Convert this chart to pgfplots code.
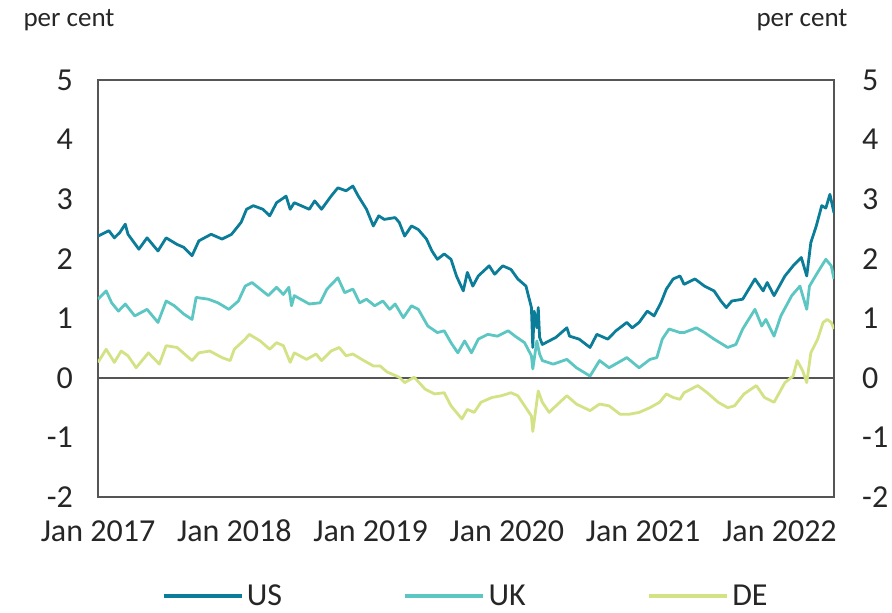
\documentclass[border=0pt]{standalone}
\usepackage{pgfplots}
\pgfplotsset{compat=1.18}
\usepackage{pgfplotstable}
\usepackage{fontspec}
\setmainfont{Carlito}
\definecolor{cUS}{HTML}{0B7D99}
\definecolor{cUK}{HTML}{5CC6C2}
\definecolor{cDE}{HTML}{D3E285}
\definecolor{axg}{HTML}{555555}

\pgfplotstableread{
x y
2017.00 2.38
2017.08 2.47
2017.12 2.35
2017.16 2.44
2017.20 2.58
2017.22 2.41
2017.30 2.16
2017.36 2.35
2017.44 2.13
2017.50 2.35
2017.58 2.24
2017.63 2.19
2017.69 2.05
2017.74 2.30
2017.83 2.41
2017.91 2.33
2017.98 2.41
2018.05 2.61
2018.09 2.83
2018.14 2.89
2018.21 2.83
2018.26 2.72
2018.31 2.94
2018.38 3.05
2018.41 2.83
2018.44 2.94
2018.55 2.83
2018.59 2.97
2018.64 2.83
2018.71 3.05
2018.76 3.19
2018.82 3.14
2018.87 3.22
2018.91 3.05
2018.97 2.83
2019.02 2.55
2019.06 2.72
2019.10 2.66
2019.18 2.69
2019.21 2.61
2019.25 2.38
2019.30 2.55
2019.35 2.49
2019.41 2.33
2019.45 2.13
2019.49 1.99
2019.54 2.08
2019.59 1.99
2019.63 1.71
2019.68 1.46
2019.71 1.77
2019.75 1.54
2019.79 1.71
2019.87 1.88
2019.91 1.74
2019.97 1.88
2020.03 1.82
2020.08 1.66
2020.14 1.54
2020.18 1.18
2020.19 0.51
2020.20 1.12
2020.22 0.84
2020.23 1.18
2020.24 0.68
2020.26 0.56
2020.31 0.62
2020.36 0.68
2020.44 0.84
2020.46 0.70
2020.53 0.65
2020.61 0.51
2020.66 0.73
2020.74 0.65
2020.80 0.79
2020.88 0.93
2020.92 0.84
2020.97 0.93
2021.03 1.12
2021.08 1.04
2021.13 1.26
2021.17 1.49
2021.22 1.66
2021.27 1.71
2021.30 1.57
2021.38 1.66
2021.45 1.54
2021.52 1.46
2021.57 1.29
2021.61 1.18
2021.65 1.29
2021.73 1.32
2021.82 1.66
2021.88 1.46
2021.91 1.60
2021.96 1.38
2022.04 1.71
2022.10 1.88
2022.16 2.02
2022.20 1.71
2022.23 2.27
2022.27 2.55
2022.31 2.89
2022.34 2.85
2022.37 3.08
2022.40 2.77
}\dataUS

\pgfplotstableread{
x y
2017.00 1.32
2017.06 1.46
2017.10 1.26
2017.15 1.12
2017.20 1.24
2017.27 1.04
2017.36 1.15
2017.44 0.93
2017.50 1.29
2017.56 1.21
2017.63 1.07
2017.69 0.98
2017.72 1.35
2017.81 1.32
2017.88 1.26
2017.96 1.15
2018.03 1.29
2018.08 1.54
2018.13 1.60
2018.19 1.49
2018.25 1.38
2018.31 1.52
2018.36 1.40
2018.40 1.52
2018.42 1.21
2018.44 1.38
2018.55 1.24
2018.63 1.26
2018.68 1.49
2018.76 1.68
2018.81 1.43
2018.87 1.49
2018.92 1.26
2018.97 1.32
2019.03 1.21
2019.09 1.29
2019.14 1.15
2019.18 1.24
2019.24 1.01
2019.30 1.21
2019.35 1.15
2019.42 0.87
2019.49 0.76
2019.54 0.79
2019.59 0.59
2019.64 0.42
2019.69 0.62
2019.74 0.42
2019.79 0.65
2019.86 0.73
2019.93 0.70
2020.01 0.79
2020.06 0.70
2020.13 0.59
2020.18 0.37
2020.19 0.15
2020.22 0.62
2020.24 0.40
2020.26 0.29
2020.34 0.23
2020.44 0.31
2020.51 0.17
2020.61 0.03
2020.68 0.29
2020.75 0.17
2020.88 0.34
2020.97 0.17
2021.05 0.31
2021.10 0.34
2021.14 0.65
2021.19 0.82
2021.27 0.76
2021.30 0.76
2021.39 0.84
2021.45 0.76
2021.52 0.65
2021.62 0.51
2021.68 0.56
2021.73 0.82
2021.82 1.15
2021.87 0.87
2021.90 0.98
2021.96 0.70
2022.01 1.04
2022.09 1.38
2022.15 1.54
2022.20 1.15
2022.22 1.54
2022.28 1.77
2022.34 1.99
2022.38 1.88
2022.40 1.66
}\dataUK

\pgfplotstableread{
x y
2017.00 0.26
2017.06 0.48
2017.12 0.26
2017.17 0.45
2017.22 0.37
2017.28 0.17
2017.37 0.42
2017.45 0.23
2017.50 0.54
2017.58 0.51
2017.69 0.29
2017.74 0.42
2017.82 0.45
2017.91 0.34
2017.97 0.29
2018.00 0.48
2018.08 0.65
2018.11 0.73
2018.19 0.62
2018.26 0.48
2018.31 0.59
2018.36 0.54
2018.41 0.26
2018.44 0.42
2018.53 0.31
2018.60 0.40
2018.64 0.29
2018.71 0.45
2018.77 0.51
2018.82 0.37
2018.87 0.40
2018.95 0.29
2019.02 0.20
2019.07 0.20
2019.12 0.10
2019.21 0.01
2019.25 -0.08
2019.32 0.01
2019.40 -0.19
2019.47 -0.27
2019.54 -0.25
2019.59 -0.47
2019.67 -0.69
2019.71 -0.53
2019.76 -0.58
2019.81 -0.41
2019.89 -0.33
2019.96 -0.30
2020.03 -0.25
2020.08 -0.30
2020.13 -0.47
2020.18 -0.64
2020.19 -0.90
2020.23 -0.22
2020.26 -0.41
2020.31 -0.58
2020.36 -0.47
2020.44 -0.30
2020.51 -0.44
2020.61 -0.55
2020.68 -0.44
2020.75 -0.47
2020.83 -0.61
2020.90 -0.61
2020.97 -0.58
2021.05 -0.50
2021.12 -0.41
2021.17 -0.27
2021.22 -0.33
2021.27 -0.36
2021.30 -0.25
2021.40 -0.13
2021.47 -0.25
2021.55 -0.41
2021.62 -0.50
2021.67 -0.47
2021.74 -0.27
2021.83 -0.13
2021.89 -0.33
2021.96 -0.41
2022.04 -0.08
2022.10 0.03
2022.13 0.29
2022.17 0.12
2022.20 -0.08
2022.23 0.42
2022.28 0.65
2022.32 0.93
2022.35 0.98
2022.38 0.93
2022.40 0.82
}\dataDE

\begin{document}
\begin{tikzpicture}
\begin{axis}[
  name=ax,
  at={(0,0)}, anchor=south west,
  scale only axis,
  width=736pt, height=417pt,
  xmin=2017, xmax=2022.40,
  ymin=-2, ymax=5,
  axis line style={draw=axg, line width=1.3pt},
  xtick={2017,2018,2019,2020,2021,2022},
  xticklabels={Jan 2017,Jan 2018,Jan 2019,Jan 2020,Jan 2021,Jan 2022},
  ytick={-2,-1,0,1,2,3,4,5},
  yticklabels={-2,-1,0,1,2,3,4,5},
  major tick length=0pt,
  tick style={draw=none},
  ticklabel style={font=\fontsize{32}{32}\selectfont, inner sep=0pt, text=black!85},
  yticklabel style={anchor=east, xshift=-25pt},
  xticklabel style={anchor=base, yshift=-45pt},
  legend style={at={(0.50,-0.238)}, anchor=center, draw=none, fill=none,
    font=\fontsize{32}{32}\selectfont, legend columns=3,
    /tikz/every even column/.append style={column sep=118pt},
    nodes={inner xsep=3pt, inner ysep=0pt, text=black!85}},
  legend image code/.code={\draw[#1, line width=4.5pt] (0pt,0pt) -- (78pt,0pt);},
  every axis plot/.append style={line width=2.8pt, line join=round},
]
\draw[axg, line width=2pt] (axis cs:2017,0) -- (axis cs:2022.40,0);
\addplot[cUS] table[x=x,y=y] {\dataUS};
\addlegendentry{US}
\addplot[cUK] table[x=x,y=y] {\dataUK};
\addlegendentry{UK}
\addplot[cDE] table[x=x,y=y] {\dataDE};
\addlegendentry{DE}
\end{axis}
\begin{axis}[
  at={(0,0)}, anchor=south west,
  scale only axis,
  width=736pt, height=417pt,
  xmin=2017, xmax=2022.40,
  ymin=-2, ymax=5,
  hide x axis,
  axis y line*=right,
  y axis line style={draw=none},
  ytick={-2,-1,0,1,2,3,4,5},
  yticklabels={-2,-1,0,1,2,3,4,5},
  major tick length=0pt,
  tick style={draw=none},
  ticklabel style={font=\fontsize{32}{32}\selectfont, inner sep=0pt, text=black!85},
  yticklabel style={anchor=west, xshift=28pt},
]
\end{axis}
\node[anchor=base west, font=\fontsize{27}{27}\selectfont, text=black!85] at ([xshift=-78pt,yshift=53pt]ax.north west) {per cent};
\node[anchor=base east, font=\fontsize{27}{27}\selectfont, text=black!85] at ([xshift=17pt,yshift=53pt]ax.north east) {per cent};
\path ([xshift=-98pt,yshift=-116pt]ax.south west) rectangle ([xshift=58pt,yshift=80pt]ax.north east);
\end{tikzpicture}
\end{document}
